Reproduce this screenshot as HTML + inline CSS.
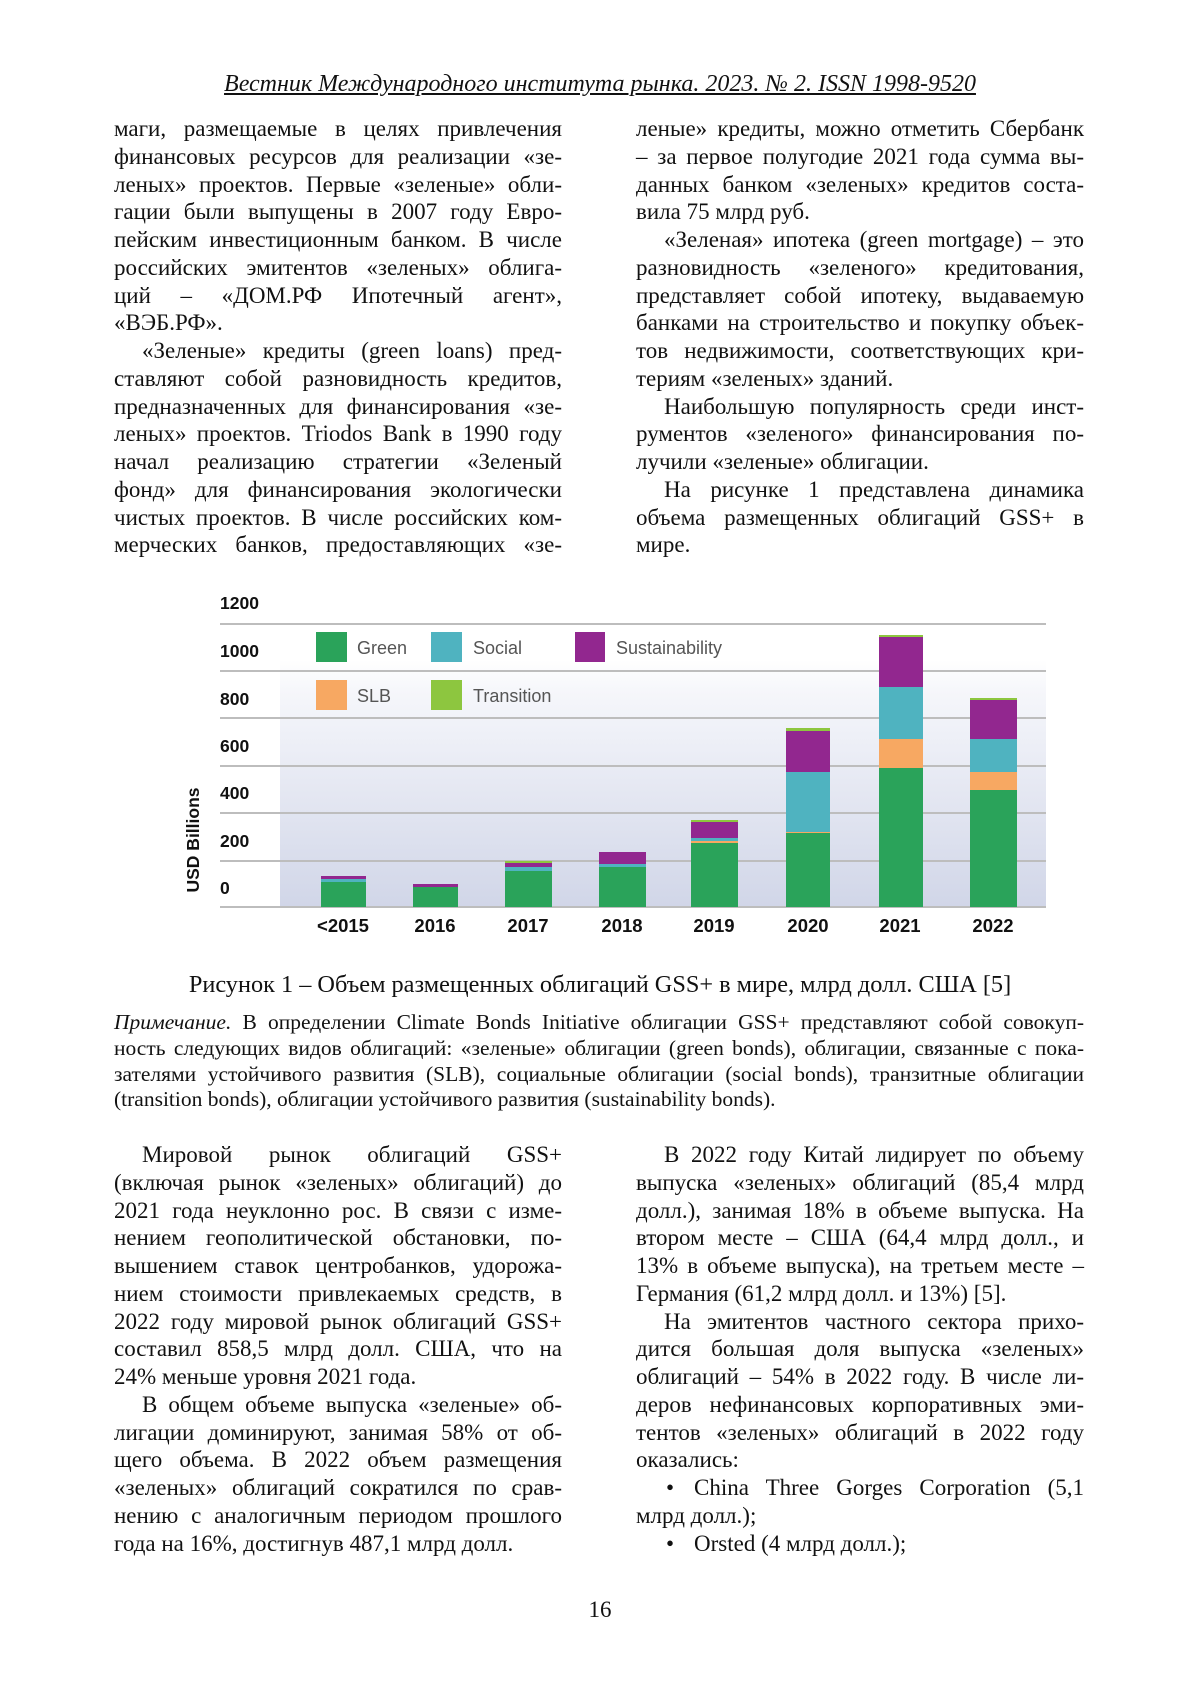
<!DOCTYPE html>
<html><head><meta charset="utf-8">
<style>
body{margin:0;background:#fff;}
#pg{position:relative;width:1200px;height:1697px;overflow:hidden;font-family:"Liberation Serif","DejaVu Serif",serif;color:#111;}
.c{position:absolute;font-size:23px;line-height:27.75px;}
.c div{white-space:nowrap;height:27.75px;position:relative;}
.j{text-align:justify;text-align-last:justify;white-space:normal!important;}
.i{padding-left:28px;}
.n{position:absolute;left:114px;width:970px;top:1010px;font-size:21.5px;line-height:25.8px;}
.n div{height:25.8px;white-space:nowrap;}
.b{position:absolute;left:30px;top:0;}
svg text{font-family:"Liberation Sans","DejaVu Sans",sans-serif;}
</style></head><body><div id="pg">
<div style="position:absolute;top:71px;left:0;width:1200px;text-align:center;font-size:24px;font-style:italic;text-decoration:underline;">Вестник Международного института рынка. 2023. № 2. ISSN 1998-9520</div>

<div class="c" style="left:114px;top:115px;width:448px;">
<div class="j">маги, размещаемые в целях привлечения</div>
<div class="j">финансовых ресурсов для реализации «зе-</div>
<div class="j">леных» проектов. Первые «зеленые» обли-</div>
<div class="j">гации были выпущены в 2007 году Евро-</div>
<div class="j">пейским инвестиционным банком. В числе</div>
<div class="j">российских эмитентов «зеленых» облига-</div>
<div class="j">ций – «ДОМ.РФ Ипотечный агент»,</div>
<div>«ВЭБ.РФ».</div>
<div class="j i">«Зеленые» кредиты (green loans) пред-</div>
<div class="j">ставляют собой разновидность кредитов,</div>
<div class="j">предназначенных для финансирования «зе-</div>
<div class="j">леных» проектов. Triodos Bank в 1990 году</div>
<div class="j">начал реализацию стратегии «Зеленый</div>
<div class="j">фонд» для финансирования экологически</div>
<div class="j">чистых проектов. В числе российских ком-</div>
<div class="j">мерческих банков, предоставляющих «зе-</div>
</div>

<div class="c" style="left:636px;top:115px;width:448px;">
<div class="j">леные» кредиты, можно отметить Сбербанк</div>
<div class="j">– за первое полугодие 2021 года сумма вы-</div>
<div class="j">данных банком «зеленых» кредитов соста-</div>
<div>вила 75 млрд руб.</div>
<div class="j i">«Зеленая» ипотека (green mortgage) – это</div>
<div class="j">разновидность «зеленого» кредитования,</div>
<div class="j">представляет собой ипотеку, выдаваемую</div>
<div class="j">банками на строительство и покупку объек-</div>
<div class="j">тов недвижимости, соответствующих кри-</div>
<div>териям «зеленых» зданий.</div>
<div class="j i">Наибольшую популярность среди инст-</div>
<div class="j">рументов «зеленого» финансирования по-</div>
<div>лучили «зеленые» облигации.</div>
<div class="j i">На рисунке 1 представлена динамика</div>
<div class="j">объема размещенных облигаций GSS+ в</div>
<div>мире.</div>
</div>

<svg style="position:absolute;left:0;top:0" width="1200" height="1697">
<defs><linearGradient id="g" x1="0" y1="0" x2="0" y2="1"><stop offset="0" stop-color="#ffffff"/><stop offset="0.12" stop-color="#f6f7fb"/><stop offset="1" stop-color="#d1d6e8"/></linearGradient></defs>
<rect x="280" y="660" width="766" height="246" fill="url(#g)"/>
<g stroke="#bdbdbd" stroke-width="2">
<line x1="220" x2="1046" y1="624" y2="624"/><line x1="220" x2="1046" y1="671" y2="671"/><line x1="220" x2="1046" y1="718" y2="718"/><line x1="220" x2="1046" y1="766" y2="766"/><line x1="220" x2="1046" y1="813" y2="813"/><line x1="220" x2="1046" y1="861" y2="861"/><line x1="220" x2="1046" y1="907" y2="907"/>
</g>
<g font-weight="bold" font-size="17.5" fill="#111">
<text x="220" y="609">1200</text><text x="220" y="657">1000</text><text x="220" y="705">800</text><text x="220" y="752">600</text><text x="220" y="799">400</text><text x="220" y="847">200</text><text x="220" y="894">0</text>
<text transform="translate(199,840) rotate(-90)" text-anchor="middle" font-size="17.5">USD Billions</text>
<g text-anchor="middle" font-size="18.5"><text x="343" y="932">&lt;2015</text><text x="435" y="932">2016</text><text x="528" y="932">2017</text><text x="622" y="932">2018</text><text x="714" y="932">2019</text><text x="808" y="932">2020</text><text x="900" y="932">2021</text><text x="993" y="932">2022</text></g>
</g>
<g>
<rect x="321" y="882" width="45" height="25" fill="#2aa35a"/><rect x="321" y="879" width="45" height="3" fill="#4fb3c0"/><rect x="321" y="876" width="45" height="3" fill="#92278f"/>
<rect x="413" y="887" width="45" height="20" fill="#2aa35a"/><rect x="413" y="884" width="45" height="3" fill="#92278f"/>
<rect x="505" y="871" width="47" height="36" fill="#2aa35a"/><rect x="505" y="867" width="47" height="4" fill="#4fb3c0"/><rect x="505" y="863" width="47" height="4" fill="#92278f"/><rect x="505" y="861" width="47" height="2" fill="#8dc63f"/>
<rect x="599" y="867" width="47" height="40" fill="#2aa35a"/><rect x="599" y="864" width="47" height="3" fill="#4fb3c0"/><rect x="599" y="852" width="47" height="12" fill="#92278f"/>
<rect x="691" y="843" width="47" height="64" fill="#2aa35a"/><rect x="691" y="841" width="47" height="2" fill="#f7a862"/><rect x="691" y="838" width="47" height="3" fill="#4fb3c0"/><rect x="691" y="822" width="47" height="16" fill="#92278f"/><rect x="691" y="820" width="47" height="2" fill="#8dc63f"/>
<rect x="786" y="833" width="44" height="74" fill="#2aa35a"/><rect x="786" y="832" width="44" height="1" fill="#f7a862"/><rect x="786" y="772" width="44" height="60" fill="#4fb3c0"/><rect x="786" y="731" width="44" height="41" fill="#92278f"/><rect x="786" y="728" width="44" height="3" fill="#8dc63f"/>
<rect x="879" y="768" width="44" height="139" fill="#2aa35a"/><rect x="879" y="739" width="44" height="29" fill="#f7a862"/><rect x="879" y="687" width="44" height="52" fill="#4fb3c0"/><rect x="879" y="637" width="44" height="50" fill="#92278f"/><rect x="879" y="635" width="44" height="2" fill="#8dc63f"/>
<rect x="970" y="790" width="47" height="117" fill="#2aa35a"/><rect x="970" y="772" width="47" height="18" fill="#f7a862"/><rect x="970" y="739" width="47" height="33" fill="#4fb3c0"/><rect x="970" y="700" width="47" height="39" fill="#92278f"/><rect x="970" y="698" width="47" height="2" fill="#8dc63f"/>
</g>
<g font-size="18" fill="#555">
<rect x="316" y="632" width="31" height="30" fill="#2aa35a"/><text x="357" y="654">Green</text>
<rect x="431" y="632" width="31" height="30" fill="#4fb3c0"/><text x="473" y="654">Social</text>
<rect x="575" y="632" width="30" height="30" fill="#92278f"/><text x="616" y="654">Sustainability</text>
<rect x="316" y="680" width="31" height="30" fill="#f7a862"/><text x="357" y="702">SLB</text>
<rect x="431" y="680" width="31" height="30" fill="#8dc63f"/><text x="473" y="702">Transition</text>
</g>
</svg>

<div style="position:absolute;top:971px;left:0;width:1200px;text-align:center;font-size:24.3px;">Рисунок 1 – Объем размещенных облигаций GSS+ в мире, млрд долл. США [5]</div>

<div class="n">
<div class="j"><i>Примечание.</i> В определении Climate Bonds Initiative облигации GSS+ представляют собой совокуп-</div>
<div class="j">ность следующих видов облигаций: «зеленые» облигации (green bonds), облигации, связанные с пока-</div>
<div class="j">зателями устойчивого развития (SLB), социальные облигации (social bonds), транзитные облигации</div>
<div>(transition bonds), облигации устойчивого развития (sustainability bonds).</div>
</div>

<div class="c" style="left:114px;top:1141px;width:448px;">
<div class="j i">Мировой рынок облигаций GSS+</div>
<div class="j">(включая рынок «зеленых» облигаций) до</div>
<div class="j">2021 года неуклонно рос. В связи с изме-</div>
<div class="j">нением геополитической обстановки, по-</div>
<div class="j">вышением ставок центробанков, удорожа-</div>
<div class="j">нием стоимости привлекаемых средств, в</div>
<div class="j">2022 году мировой рынок облигаций GSS+</div>
<div class="j">составил 858,5 млрд долл. США, что на</div>
<div>24% меньше уровня 2021 года.</div>
<div class="j i">В общем объеме выпуска «зеленые» об-</div>
<div class="j">лигации доминируют, занимая 58% от об-</div>
<div class="j">щего объема. В 2022 объем размещения</div>
<div class="j">«зеленых» облигаций сократился по срав-</div>
<div class="j">нению с аналогичным периодом прошлого</div>
<div>года на 16%, достигнув 487,1 млрд долл.</div>
</div>

<div class="c" style="left:636px;top:1141px;width:448px;">
<div class="j i">В 2022 году Китай лидирует по объему</div>
<div class="j">выпуска «зеленых» облигаций (85,4 млрд</div>
<div class="j">долл.), занимая 18% в объеме выпуска. На</div>
<div class="j">втором месте – США (64,4 млрд долл., и</div>
<div class="j">13% в объеме выпуска), на третьем месте –</div>
<div>Германия (61,2 млрд долл. и 13%) [5].</div>
<div class="j i">На эмитентов частного сектора прихо-</div>
<div class="j">дится большая доля выпуска «зеленых»</div>
<div class="j">облигаций – 54% в 2022 году. В числе ли-</div>
<div class="j">деров нефинансовых корпоративных эми-</div>
<div class="j">тентов «зеленых» облигаций в 2022 году</div>
<div>оказались:</div>
<div class="j" style="padding-left:58px;"><span class="b">•</span>China Three Gorges Corporation (5,1</div>
<div>млрд долл.);</div>
<div style="padding-left:58px;"><span class="b">•</span>Orsted (4 млрд долл.);</div>
</div>

<div style="position:absolute;top:1597px;left:0;width:1200px;text-align:center;font-size:23px;">16</div>
</div></body></html>
